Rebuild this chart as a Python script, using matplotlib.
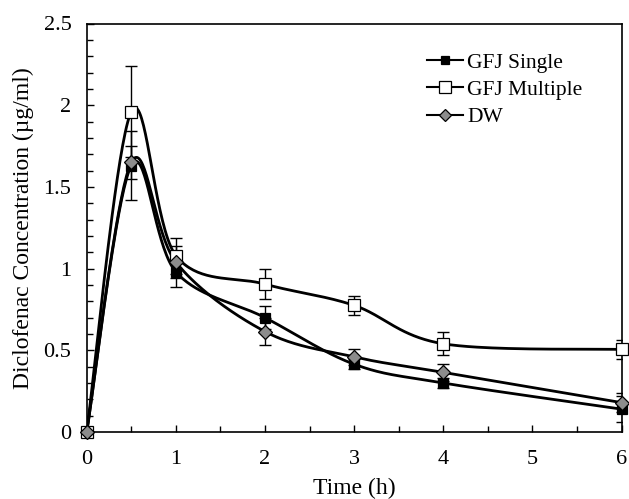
import numpy as np
import matplotlib
matplotlib.use("Agg")
import matplotlib.pyplot as plt
from matplotlib.ticker import MultipleLocator

time = [0, 0.5, 1, 2, 3, 4, 6]
gfj_single = [0, 1.63, 0.98, 0.70, 0.415, 0.30, 0.14]
gfj_single_err = [0, 0.21, 0.09, 0.07, 0.03, 0.03, 0.08]
gfj_multiple = [0, 1.96, 1.08, 0.905, 0.775, 0.54, 0.505]
gfj_multiple_err = [0, 0.28, 0.11, 0.09, 0.06, 0.07, 0.06]
dw = [0, 1.65, 1.04, 0.615, 0.46, 0.365, 0.18]
dw_err = [0, 0.10, 0.10, 0.08, 0.05, 0.05, 0.06]
yticks = [0, 0.5, 1, 1.5, 2, 2.5]
ytick_labels = ['0', '0.5', '1', '1.5', '2', '2.5']

plt.rcParams['font.family'] = ['Liberation Serif', 'DejaVu Serif']


def smooth(x, y, n=40):
    x = np.asarray(x, float)
    y = np.asarray(y, float)
    px = np.concatenate([[x[0]], x, [x[-1]]])
    py = np.concatenate([[y[0]], y, [y[-1]]])
    xs, ys = [], []
    t = np.linspace(0, 1, n)
    for i in range(1, len(px) - 2):
        p0 = np.array([px[i], py[i]])
        p3 = np.array([px[i + 1], py[i + 1]])
        p1 = p0 + (np.array([px[i + 1], py[i + 1]]) - np.array([px[i - 1], py[i - 1]])) / 6
        p2 = p3 - (np.array([px[i + 2], py[i + 2]]) - np.array([px[i], py[i]])) / 6
        b = ((1 - t) ** 3)[:, None] * p0 + (3 * (1 - t) ** 2 * t)[:, None] * p1 \
            + (3 * (1 - t) * t ** 2)[:, None] * p2 + (t ** 3)[:, None] * p3
        xs.extend(b[:, 0])
        ys.extend(b[:, 1])
    return xs, ys


fig = plt.figure(figsize=(6.29, 4.99), dpi=100)
ax = fig.add_axes([86.7 / 629, 1 - 432 / 499, (621.5 - 86.7) / 629, (432 - 23.5) / 499])

series = [
    ("GFJ Single", gfj_single, gfj_single_err, 's', 'black', 7),
    ("GFJ Multiple", gfj_multiple, gfj_multiple_err, 's', 'white', 9),
    ("DW", dw, dw_err, 'D', '#8c8c8c', 7),
]

for label, vals, err, mk, fc, ms in series:
    ax.errorbar(time, vals, yerr=err, fmt='none', ecolor='black', elinewidth=1.0,
                capsize=4, capthick=1.0, zorder=2)
for label, vals, err, mk, fc, ms in series:
    sx, sy = smooth(time, vals)
    ax.plot(sx, sy, color='black', lw=2.0, zorder=3)
for label, vals, err, mk, fc, ms in series:
    ax.plot(time, vals, linestyle='none', marker=mk, markersize=ms,
            markerfacecolor=fc, markeredgecolor='black', markeredgewidth=0.9,
            zorder=4, clip_on=False)
    ax.plot([], [], color='black', lw=1.5, marker=mk, markersize=ms - 1,
            markerfacecolor=fc, markeredgecolor='black', markeredgewidth=0.9, label=label)

ax.set_xlim(0, 6)
ax.set_ylim(0, 2.5)
ax.xaxis.set_major_locator(MultipleLocator(1))
ax.xaxis.set_minor_locator(MultipleLocator(0.5))
ax.yaxis.set_minor_locator(MultipleLocator(0.1))
ax.set_yticks(yticks)
ax.set_yticklabels(ytick_labels)
ax.tick_params(which='both', direction='in', labelsize=16, width=1)
ax.tick_params(which='major', length=5)
ax.tick_params(which='minor', length=4)
ax.tick_params(axis='x', pad=13)
ax.tick_params(axis='y', pad=11)
for s in ax.spines.values():
    s.set_linewidth(1.2)

ax.set_xlabel('Time (h)', fontsize=17, labelpad=6)
ax.set_ylabel('Diclofenac Concentration (µg/ml)', fontsize=17, labelpad=7)

ax.legend(loc='upper left', bbox_to_anchor=(427 / 629, 1 - 52.5 / 499),
          bbox_transform=fig.transFigure, frameon=False, fontsize=15.5,
          handlelength=1.67, handletextpad=0.19, labelspacing=0.34, borderaxespad=0,
          borderpad=0)

fig.savefig('out.png', dpi=100)
